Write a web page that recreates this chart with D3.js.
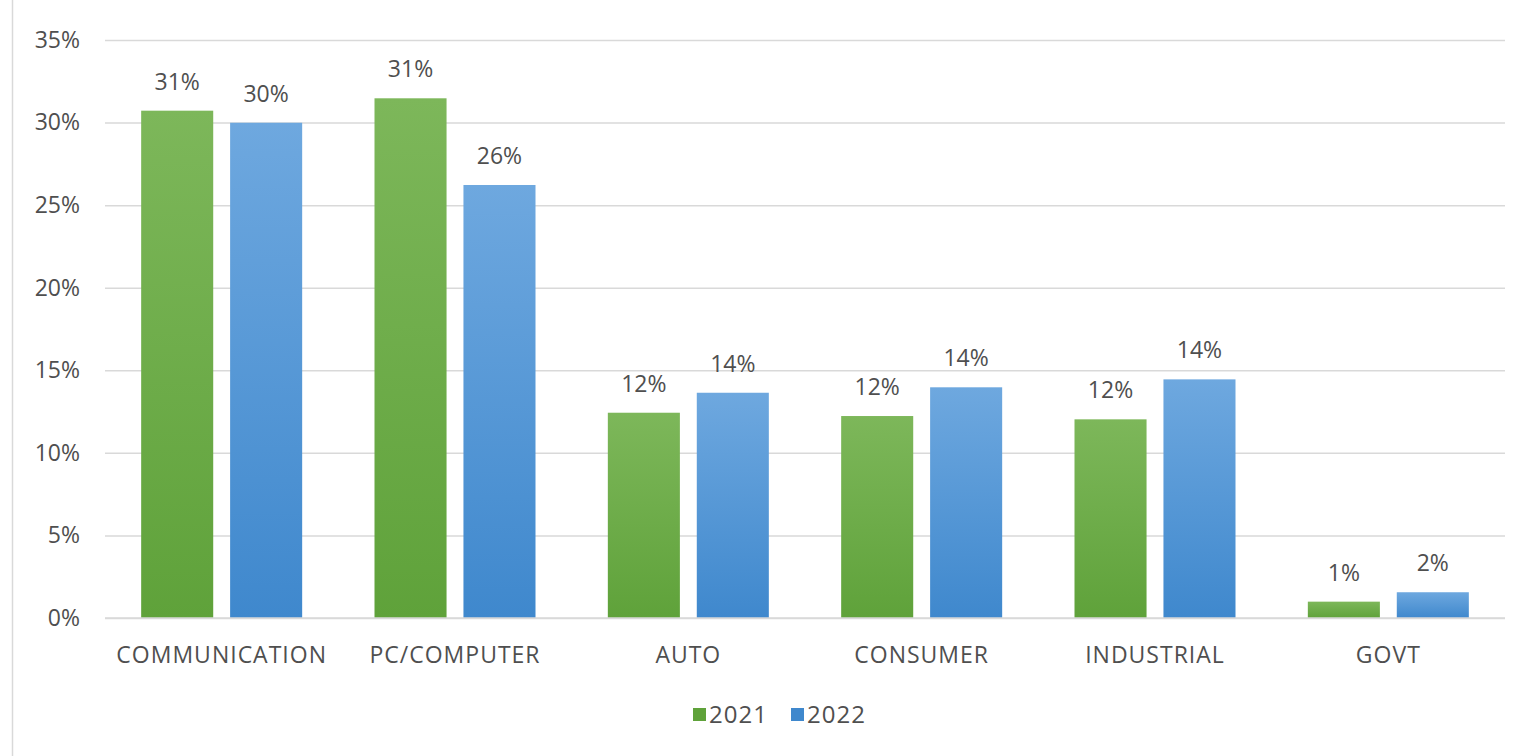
<!DOCTYPE html>
<html>
<head>
<meta charset="utf-8">
<script src="https://cdn.jsdelivr.net/npm/d3@7"></script>
<style>
  html, body { margin: 0; padding: 0; background: #fff; }
  svg { display: block; }
  text { font-family: "Open Sans", "Liberation Sans", sans-serif; fill: #4f4f4f; }
</style>
</head>
<body>
<svg id="chart" width="1519" height="756"></svg>
<script>
// Market share by end application
const categories = ["COMMUNICATION", "PC/COMPUTER", "AUTO", "CONSUMER", "INDUSTRIAL", "GOVT"];
const years = ["2021", "2022"];
const values2021 = [0.3072, 0.3147, 0.1243, 0.1223, 0.1203, 0.0099];
const values2022 = [0.2999, 0.2622, 0.1364, 0.1397, 0.1445, 0.0156];
const yTicks = [0, 0.05, 0.10, 0.15, 0.20, 0.25, 0.30, 0.35];

const seriesValues = [values2021, values2022];
const colors = { "2021": ["#7db75a", "#5fa23a"], "2022": ["#6ea8df", "#3f88cd"] };

const svg = d3.select("#chart");
const margin = { left: 105, right: 14, top: 40, bottom: 138 };
const width = 1519, height = 756;

const x0 = d3.scaleBand()
  .domain(categories)
  .range([margin.left, width - margin.right])
  .paddingInner(0.31)
  .paddingOuter(0.155);

const x1 = d3.scaleBand()
  .domain(years)
  .range([0, x0.bandwidth()])
  .paddingInner(0.19);

const y = d3.scaleLinear()
  .domain([0, 0.35])
  .range([height - margin.bottom, margin.top]);

// gradients for the bar fills
const defs = svg.append("defs");
years.forEach(yr => {
  const g = defs.append("linearGradient")
    .attr("id", "grad" + yr)
    .attr("x1", 0).attr("y1", 0).attr("x2", 0).attr("y2", 1);
  g.append("stop").attr("offset", "0%").attr("stop-color", colors[yr][0]);
  g.append("stop").attr("offset", "100%").attr("stop-color", colors[yr][1]);
});

// frame line on the left edge
svg.append("line")
  .attr("x1", 12.5).attr("x2", 12.5)
  .attr("y1", 0).attr("y2", height)
  .attr("stroke", "#d9d9d9").attr("stroke-width", 1.5);

// y axis with gridlines
const yAxis = d3.axisLeft(y)
  .tickValues(yTicks)
  .tickFormat(d3.format(".0%"))
  .tickSize(-(width - margin.right - margin.left))
  .tickPadding(25);

const yG = svg.append("g")
  .attr("transform", `translate(${margin.left},0)`)
  .call(yAxis);
yG.select(".domain").remove();
yG.selectAll(".tick line").attr("stroke", "#d9d9d9").attr("stroke-width", 1.5);
yG.selectAll(".tick text")
  .style("font-size", "23px")
  .attr("fill", "#4f4f4f");

// bars
const groups = svg.append("g")
  .selectAll("g")
  .data(categories.map((c, i) => ({ cat: c, vals: years.map((yr, j) => ({ yr, v: seriesValues[j][i] })) })))
  .join("g")
  .attr("transform", d => `translate(${x0(d.cat)},0)`);

groups.selectAll("rect")
  .data(d => d.vals)
  .join("rect")
  .attr("x", d => x1(d.yr))
  .attr("width", x1.bandwidth())
  .attr("y", d => y(d.v))
  .attr("height", d => y(0) - y(d.v))
  .attr("fill", d => `url(#grad${d.yr})`);

// value labels
groups.selectAll("text.val")
  .data(d => d.vals)
  .join("text")
  .attr("class", "val")
  .attr("x", d => x1(d.yr) + x1.bandwidth() / 2)
  .attr("y", d => y(d.v) - 21)
  .attr("text-anchor", "middle")
  .style("font-size", "23px")
  .text(d => d3.format(".0%")(d.v));

// category axis
const xAxis = d3.axisBottom(x0).tickSize(0).tickPadding(29);
const xG = svg.append("g")
  .attr("transform", `translate(0,${y(0)})`)
  .call(xAxis);
xG.select(".domain").attr("stroke", "#d9d9d9").attr("stroke-width", 1.5)
  .attr("d", `M${margin.left},0H${width - margin.right}`);
xG.selectAll(".tick text")
  .style("font-size", "23px")
  .style("letter-spacing", "1px")
  .attr("fill", "#4f4f4f");

// legend
const legend = svg.append("g").attr("transform", "translate(693,715)");
const legendItems = legend.selectAll("g")
  .data(years)
  .join("g")
  .attr("transform", (d, i) => `translate(${i * 98},0)`);
legendItems.append("rect")
  .attr("x", 0).attr("y", -7)
  .attr("width", 13).attr("height", 13)
  .attr("fill", d => colors[d][1]);
legendItems.append("text")
  .attr("x", 16).attr("y", 8)
  .style("font-size", "24px")
  .style("letter-spacing", "1px")
  .text(d => d);
</script>
</body>
</html>
